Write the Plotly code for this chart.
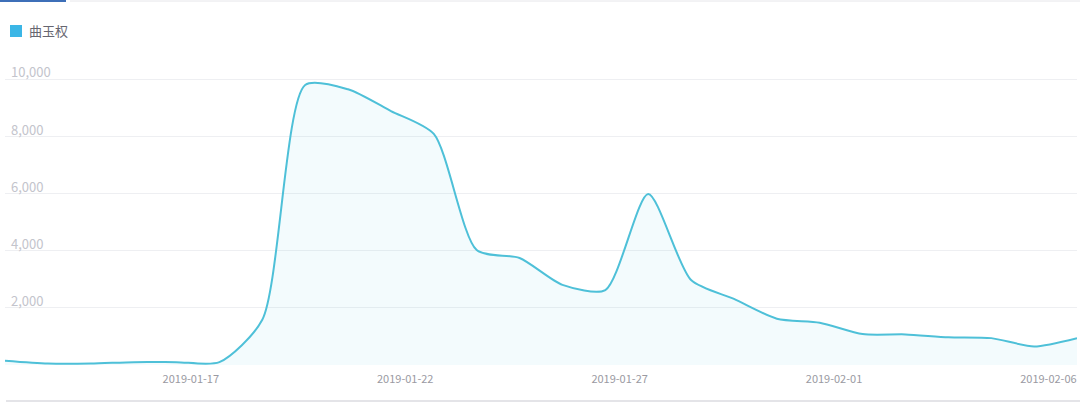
import plotly.graph_objects as go
import pandas as pd

series_name = "曲玉权"
dates = pd.date_range("2019-01-13", periods=26, freq="D")
values = [150, 50, 50, 100, 100, 100, 1580, 9790, 9640, 8880, 8080, 4020, 3740, 2800,
          2620, 5980, 2970, 2310, 1620, 1480, 1080, 1070, 970, 940, 650, 940]
tick_dates = ["2019-01-17", "2019-01-22", "2019-01-27", "2019-02-01", "2019-02-06"]
y_ticks = [2000, 4000, 6000, 8000, 10000]

W, H = 1080, 403
ml, mr, mt, mb = 5, 3, 50, 38
pw, ph = W - ml - mr, H - mt - mb
y_top = 10000 * ph / (H - mb - 79)

def px_x(px):
    return (px - ml) / pw

def px_y(py):
    return (H - mb - py) / ph

fig = go.Figure()
fig.add_trace(go.Scatter(
    x=dates, y=values, mode="lines",
    line=dict(color="#4ec0d8", width=2, shape="spline", smoothing=0.7),
    fill="tozeroy", fillcolor="rgba(90,195,220,0.07)",
    name=series_name, showlegend=False, hoverinfo="x+y",
))

tickvals = [pd.Timestamp(d) + pd.Timedelta(hours=8) for d in tick_dates]

fig.update_layout(
    width=W, height=H,
    margin=dict(l=ml, r=mr, t=mt, b=mb),
    paper_bgcolor="white", plot_bgcolor="white",
    font=dict(family="Noto Sans CJK SC, sans-serif"),
    showlegend=False,
    xaxis=dict(
        range=[dates[0], dates[-1]],
        tickvals=tickvals, ticktext=tick_dates,
        showgrid=False, zeroline=False, showline=False, ticks="",
        ticklabelstandoff=6,
        tickfont=dict(size=11, color="#9a9aa2"),
    ),
    yaxis=dict(
        range=[0, y_top],
        tickvals=y_ticks, tickformat=",d",
        ticklabelposition="inside top",
        ticklabelshift=3, ticklabelstandoff=3,
        showgrid=True, gridcolor="#eeeff2", gridwidth=1,
        zeroline=False, showline=False, ticks="",
        tickfont=dict(size=13, color="#c3c4cc"),
    ),
    shapes=[
        dict(type="rect", xref="paper", yref="paper",
             x0=px_x(0), x1=px_x(66), y0=px_y(2), y1=px_y(0),
             fillcolor="#3d6fb8", line=dict(width=0), layer="above"),
        dict(type="line", xref="paper", yref="paper",
             x0=px_x(70), x1=px_x(1080), y0=px_y(1), y1=px_y(1),
             line=dict(color="#e6e6ea", width=1)),
        dict(type="line", xref="paper", yref="paper",
             x0=px_x(6), x1=px_x(1080), y0=px_y(401), y1=px_y(401),
             line=dict(color="#e4e4e8", width=2)),
        dict(type="rect", xref="paper", yref="paper",
             x0=px_x(10), x1=px_x(22), y0=px_y(37), y1=px_y(25),
             fillcolor="#3bb6e6", line=dict(width=0)),
    ],
    annotations=[
        dict(text=series_name, xref="paper", yref="paper",
             x=px_x(27), y=px_y(31), xanchor="left", yanchor="middle",
             showarrow=False, font=dict(size=13, color="#666670")),
    ],
)

fig.write_html("out.html", config={"displayModeBar": False},
               post_script="document.body.style.margin='0';document.body.style.overflow='hidden';")
